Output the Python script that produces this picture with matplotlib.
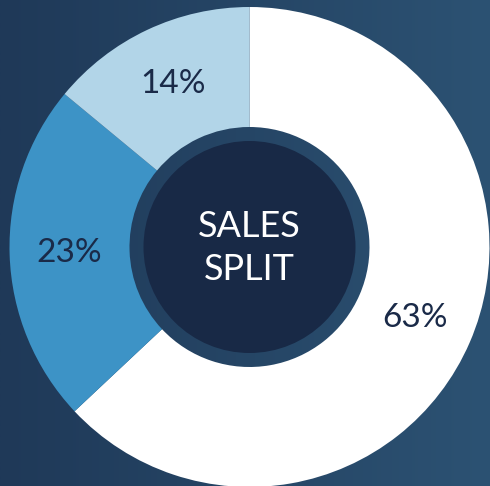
import numpy as np
import matplotlib
matplotlib.use("Agg")
import matplotlib.pyplot as plt
from matplotlib.colors import LinearSegmentedColormap
from matplotlib.patches import Circle

labels = ["63%", "23%", "14%"]
values = [63, 23, 14]
colors = ["#ffffff", "#3d93c6", "#b2d5e8"]
center_text = "SALES\nSPLIT"

W, H = 490, 486
fig = plt.figure(figsize=(W / 100, H / 100), dpi=100)
ax = fig.add_axes([0, 0, 1, 1])
ax.set_xlim(0, W)
ax.set_ylim(0, H)
ax.set_aspect("equal")
ax.axis("off")

# background gradient
cmap = LinearSegmentedColormap.from_list("bg", ["#1f3958", "#2c5273"])
grad = np.linspace(0, 1, 256).reshape(1, -1)
ax.imshow(grad, extent=[0, W, 0, H], cmap=cmap, aspect="auto", zorder=0)

cx, cy, R = 249.5, H - 247, 240
wedges, texts, autotexts = ax.pie(
    values, colors=colors, startangle=90, counterclock=False,
    center=(cx, cy), radius=R, autopct=lambda p: f"{p:.0f}%",
    pctdistance=0.75, wedgeprops=dict(width=R * 0.5, linewidth=0),
    textprops=dict(color="#1a2a48", fontsize=24, family="Lato"),
    frame=True,
)
ax.set_xlim(0, W)
ax.set_ylim(0, H)
ax.axis("off")
for w in wedges:
    w.set_zorder(2)
for t in autotexts:
    t.set_zorder(5)

ax.add_patch(Circle((cx, cy), 106, color="#182946", zorder=3, linewidth=0))
ax.text(cx, cy - 1, center_text, ha="center", va="center", color="white",
        fontsize=26, family="Lato", linespacing=1.4, zorder=6)

fig.savefig("out.png", dpi=100)
